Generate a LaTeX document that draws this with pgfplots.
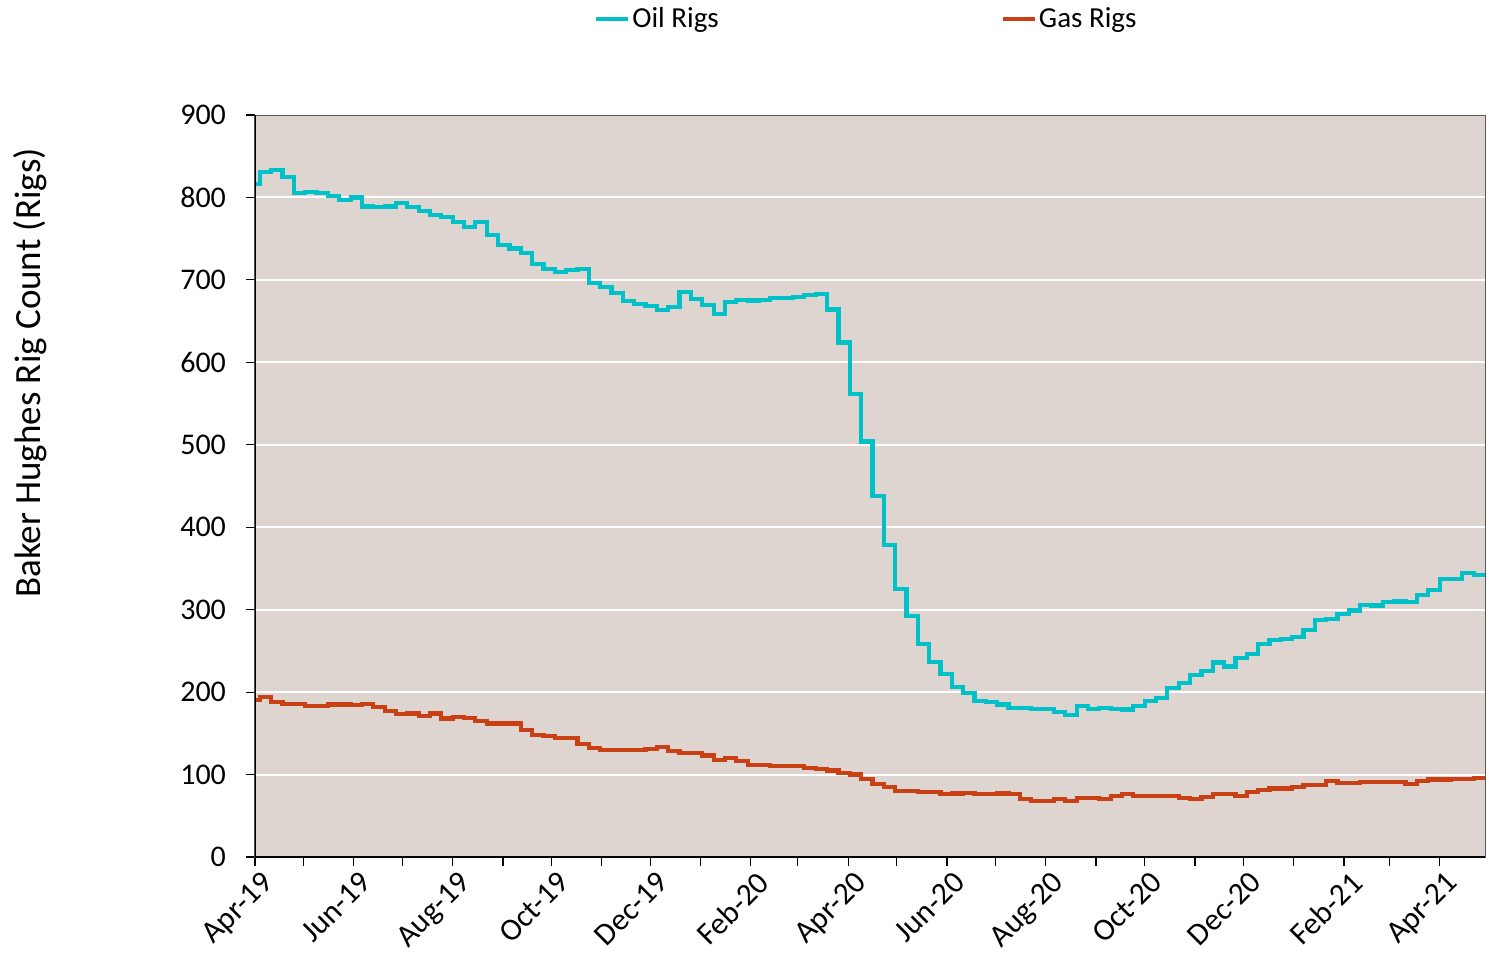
\documentclass[border=0pt]{standalone}
\usepackage{pgfplots}
\usepackage{pgfplotstable}
\pgfplotsset{compat=1.18}
\usepackage{fontspec}
\setmainfont{Carlito}
\definecolor{oilc}{RGB}{0,192,200}
\definecolor{gasc}{RGB}{200,64,20}
\definecolor{bgc}{RGB}{222,213,209}

\pgfplotstableread{
day oil gas
0 816 190
3 831 194
10 833 188
17 825 186
24 805 186
31 807 183
38 805 183
45 802 185
52 797 185
59 800 184
66 789 186
73 788 182
80 789 177
87 793 173
94 788 174
101 784 171
108 779 174
115 776 168
122 770 170
129 764 169
136 770 165
143 754 162
150 742 162
157 738 162
164 733 154
171 719 148
178 713 147
185 710 144
192 712 144
199 713 137
206 696 132
213 691 130
220 684 130
227 674 130
234 671 130
241 668 131
248 663 133
255 667 129
262 685 126
269 677 126
276 670 123
283 659 118
290 673 120
297 676 116
304 675 112
311 676 112
318 678 110
325 678 110
332 679 110
339 682 108
346 683 107
353 664 105
360 624 102
367 562 100
374 504 95
381 438 89
388 378 85
395 325 80
402 292 80
409 258 79
416 237 79
423 222 76
430 206 77
437 199 78
444 189 76
451 188 76
458 185 77
465 181 76
472 181 70
479 180 68
486 180 68
493 176 70
500 172 68
507 183 72
514 180 72
521 181 70
528 180 74
535 179 76
542 183 74
549 189 74
556 193 74
563 205 74
570 211 72
577 221 70
584 226 73
591 236 76
598 231 76
605 241 74
612 246 79
619 258 81
626 263 83
633 264 83
640 267 85
647 275 87
654 287 87
661 289 92
668 295 90
675 299 90
682 306 91
689 305 91
696 309 91
703 310 91
710 309 89
717 318 92
724 324 94
731 337 94
738 337 95
745 344 95
752 342 96
759 342 96
}\rigs

\begin{document}
\begin{tikzpicture}
\begin{axis}[
  scale only axis, width=615pt, height=371pt,
  xmin=0, xmax=759, ymin=0, ymax=900,
  axis background/.style={fill=bgc},
  axis line style={draw=gray!70!black, line width=0.5pt},
  ytick={0,100,...,900},
  xtick={0,30,61,91,122,153,183,214,244,275,306,335,366,396,427,457,488,519,549,580,610,641,672,700,731},
  xticklabels={Apr-19,,Jun-19,,Aug-19,,Oct-19,,Dec-19,,Feb-20,,Apr-20,,Jun-20,,Aug-20,,Oct-20,,Dec-20,,Feb-21,,Apr-21},
  xtick pos=bottom, ytick pos=left,
  tick align=outside,
  major tick length=4.5pt,
  tick style={black, line width=0.6pt},
  /pgf/number format/assume math mode=true,
  yticklabel style={anchor=east, xshift=-6.5pt, font=\fontsize{15}{18}\selectfont},
  xticklabel style={rotate=45, anchor=north east, inner sep=1pt, yshift=-2pt, xshift=1.5pt, font=\fontsize{15.6}{18}\selectfont},
  ymajorgrids, grid style={white, line width=1pt},
  legend style={at={(0.497,1.129)}, anchor=center, draw=none, fill=none,
    font=\fontsize{14.5}{17}\selectfont, nodes={inner sep=1pt},
    /tikz/every even column/.append style={column sep=140pt}},
  legend columns=2,
  legend image code/.code={\draw[#1] (0pt,0pt) -- (16pt,0pt);},
]
\addplot[const plot, oilc, line width=2.1pt] table[x=day, y=oil] {\rigs};
\addlegendentry{Oil Rigs}
\addplot[const plot, gasc, line width=2.1pt] table[x=day, y=gas] {\rigs};
\addlegendentry{Gas Rigs}
\draw[black, line width=0.8pt] (rel axis cs:0,1) -- (rel axis cs:0,0) -- (rel axis cs:1,0);
\end{axis}
\node[rotate=90, font=\fontsize{18.5}{21}\selectfont] at (-112.5pt,242pt) {Baker Hughes Rig Count (Rigs)};
\pgfresetboundingbox
\useasboundingbox (-127.5pt,-48pt) rectangle (617pt,428.5pt);
\end{tikzpicture}
\end{document}
